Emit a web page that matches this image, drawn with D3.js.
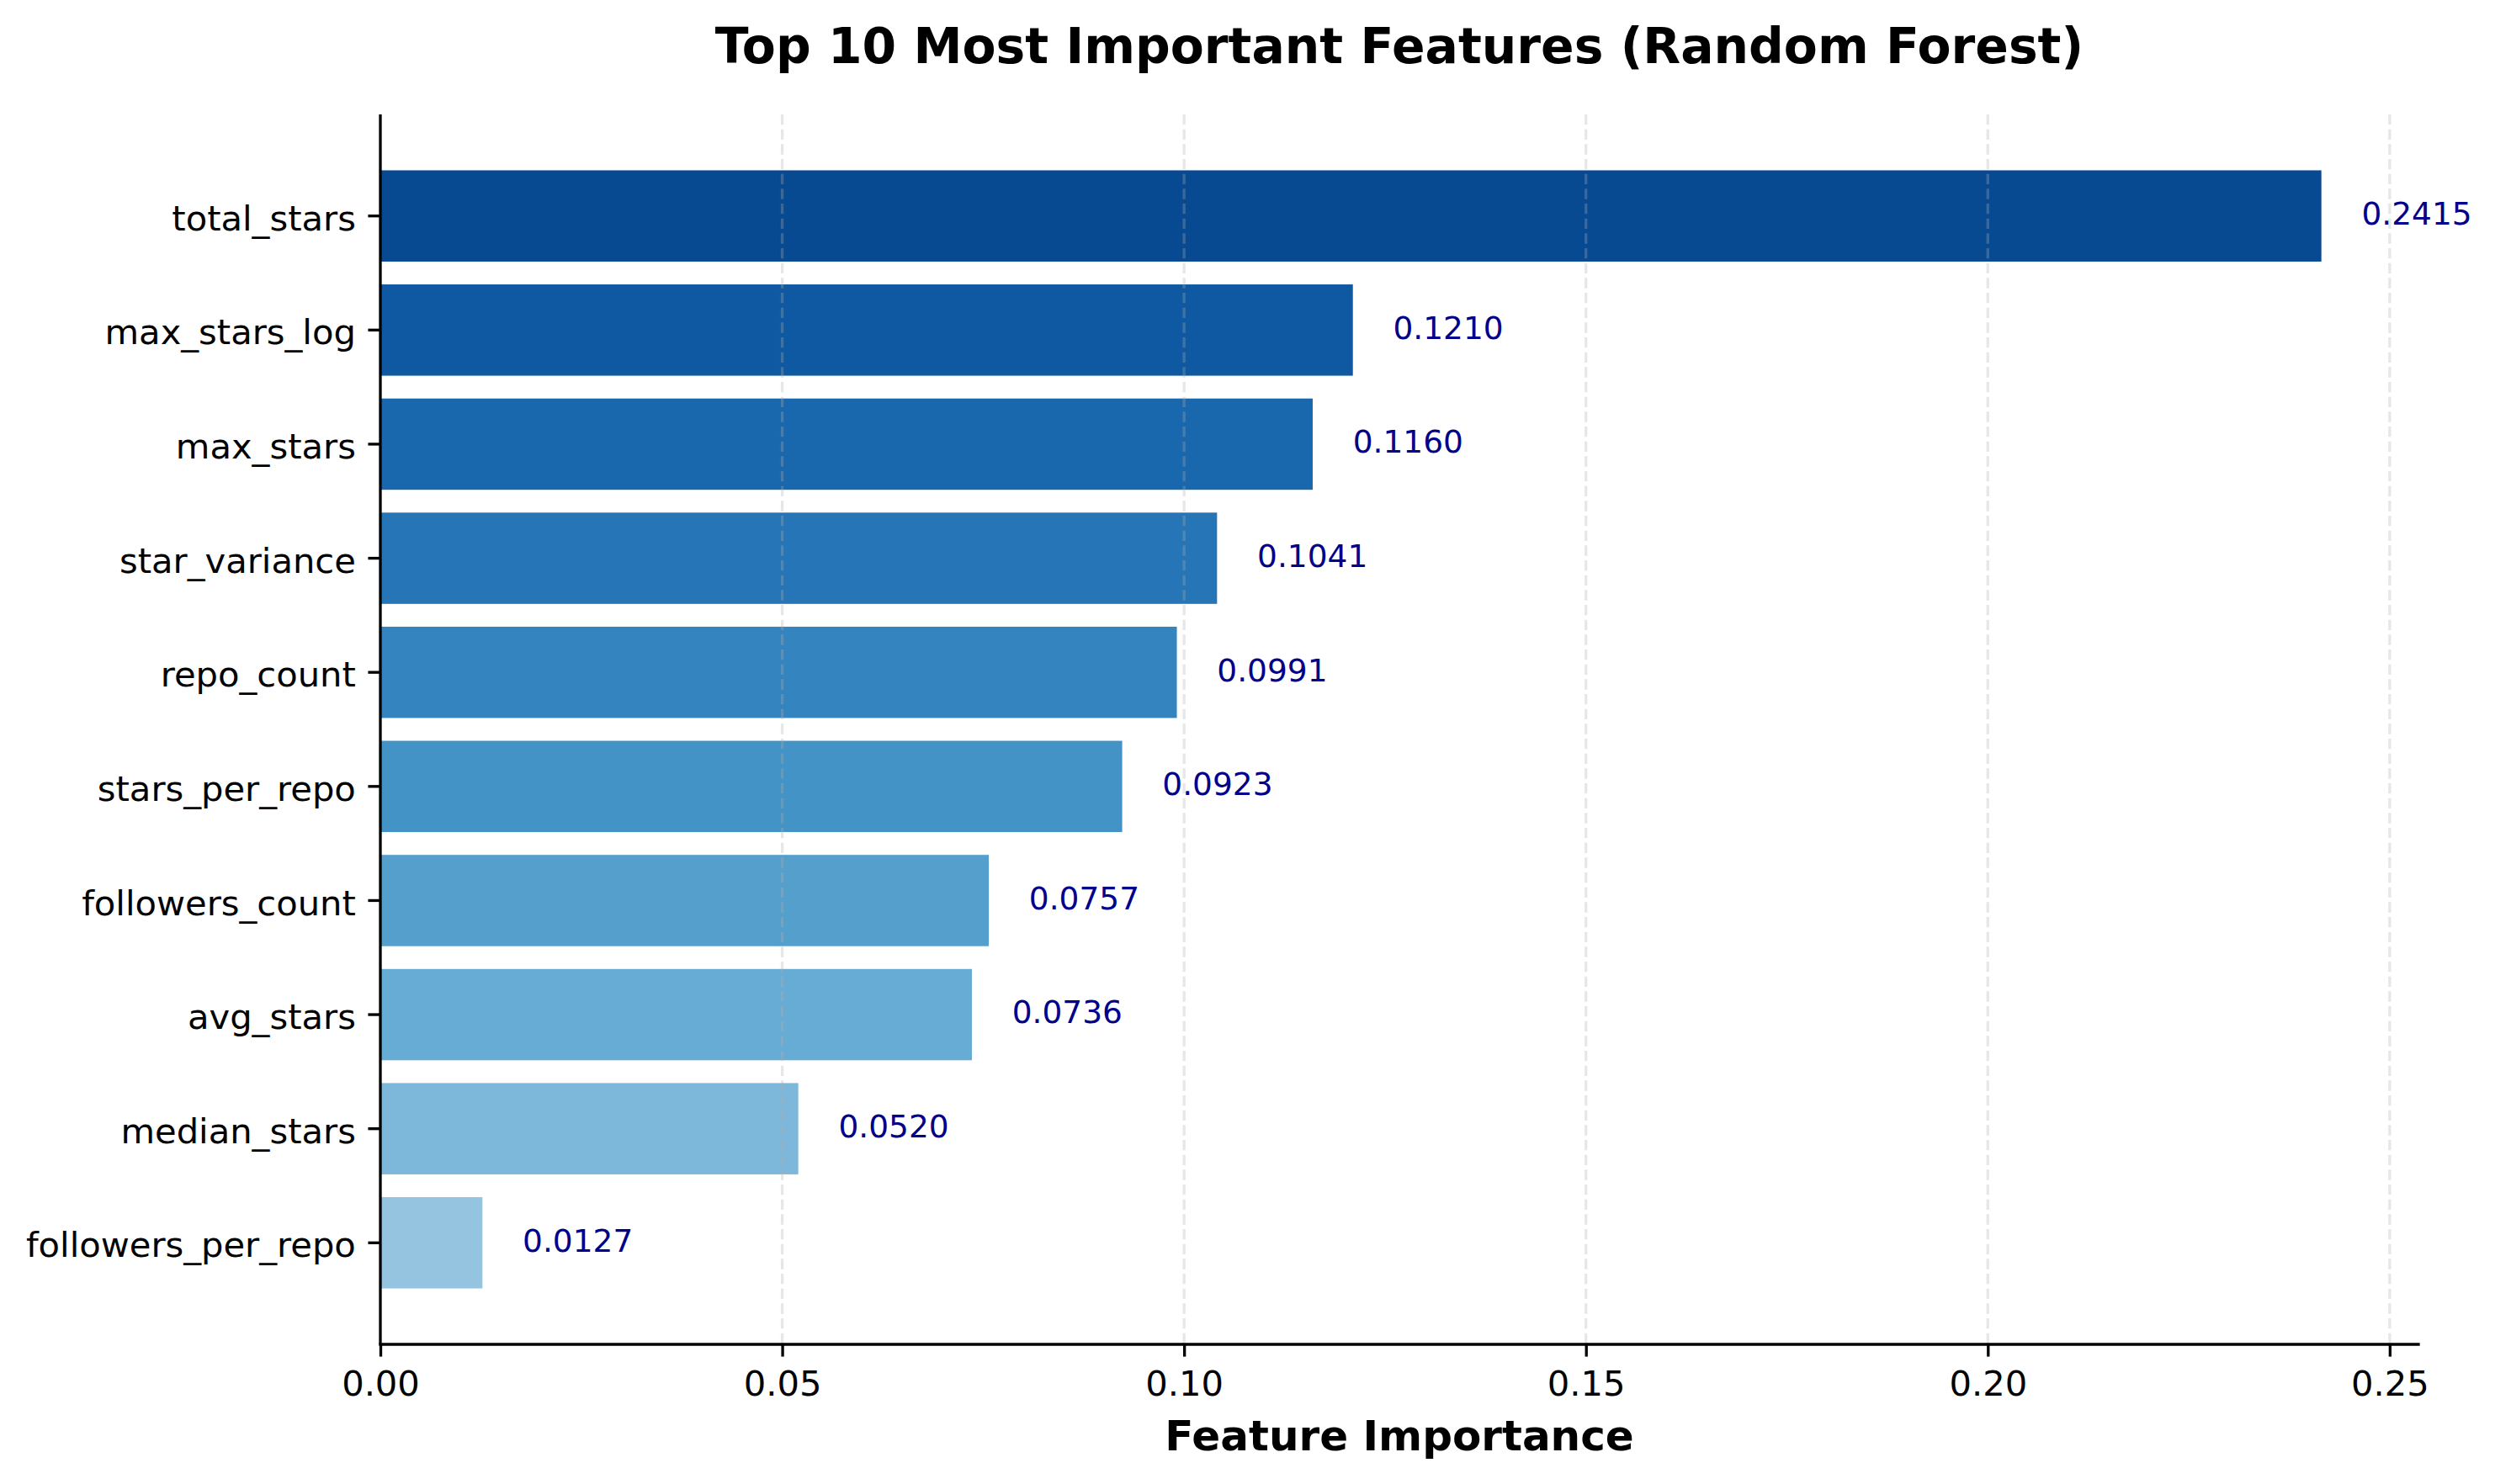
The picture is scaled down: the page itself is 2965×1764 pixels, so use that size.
<!DOCTYPE html>
<html>
<head>
<meta charset="utf-8">
<script src="https://cdn.jsdelivr.net/npm/d3@7"></script>
<style>
    body { margin: 0; background: #fff; }
    text { font-family: "DejaVu Sans", sans-serif; }
</style>
</head>
<body>
<svg id="mainFrame"></svg>
<script>
// features from top to bottom, with their importance
const features = ['total_stars', 'max_stars_log', 'max_stars', 'star_variance', 'repo_count',
    'stars_per_repo', 'followers_count', 'avg_stars', 'median_stars', 'followers_per_repo']
const importances = [0.2415, 0.1210, 0.1160, 0.1041, 0.0991, 0.0923, 0.0757, 0.0736, 0.0520, 0.0127]
const xTicks = [0, 0.05, 0.10, 0.15, 0.20, 0.25]

const data = features.map((f, i) => ({ feature: f, value: importances[i] }))

const W = 2965
const H = 1764
const pt = 300 / 72   // figure was saved at 300 dpi

const svg = d3.select('#mainFrame')
    .attr('width', W)
    .attr('height', H)

const margin = { top: 136, right: 91, bottom: 166, left: 452 }
const ourWidth = W - margin.left - margin.right
const ourHeight = H - margin.top - margin.bottom

const g = svg.append('g')
    .attr('transform', `translate(${margin.left},${margin.top})`)

// matplotlib Blues anchors, the bars run from 0.9 (top) down to 0.4
const blues = d3.scaleLinear()
    .domain(d3.range(9).map(i => i / 8))
    .range(['#f7fbff', '#deebf7', '#c6dbef', '#9ecae1', '#6baed6', '#4292c6', '#2171b5', '#08519c', '#08306b'])
const colorT = d3.scaleLinear().domain([0, features.length - 1]).range([0.9, 0.4])

const xScale = d3.scaleLinear()
    .domain([0, d3.max(importances) * 1.05])
    .range([0, ourWidth])

const yScale = d3.scaleBand()
    .domain(features)
    .range([0, ourHeight])
    .paddingInner(0.2)
    .paddingOuter(0.49)

// bars
g.append('g').selectAll('rect')
    .data(data)
    .join('rect')
    .attr('x', 0)
    .attr('y', d => yScale(d.feature))
    .attr('width', d => xScale(d.value))
    .attr('height', yScale.bandwidth())
    .attr('fill', (d, i) => blues(colorT(i)))

// dashed vertical grid (sits above the bars, like matplotlib)
g.append('g').selectAll('line')
    .data(xTicks.filter(t => t > 0))
    .join('line')
    .attr('x1', d => xScale(d))
    .attr('x2', d => xScale(d))
    .attr('y1', 0)
    .attr('y2', ourHeight)
    .attr('stroke', '#b0b0b0')
    .attr('stroke-opacity', 0.3)
    .attr('stroke-width', 0.8 * pt)
    .attr('stroke-dasharray', `${3.7 * 0.8 * pt},${1.6 * 0.8 * pt}`)

// value labels
g.append('g').selectAll('text')
    .data(data)
    .join('text')
    .attr('x', d => xScale(d.value + 0.005))
    .attr('y', d => yScale(d.feature) + yScale.bandwidth() / 2)
    .attr('dy', '0.275em')
    .attr('fill', '#00008b')
    .attr('font-size', 9 * pt)
    .text(d => d.value.toFixed(4))

// axes
const yAxis = d3.axisLeft(yScale)
    .tickSize(3.5 * pt)
    .tickPadding(3.5 * pt)

const yAxisGroup = g.append('g').call(yAxis)
yAxisGroup.select('.domain').remove()
yAxisGroup.selectAll('line').attr('stroke-width', 0.8 * pt)
yAxisGroup.selectAll('text')
    .attr('font-size', 10 * pt)
    .attr('font-family', '"DejaVu Sans", sans-serif')
    .attr('dy', '0.41em')

const xAxis = d3.axisBottom(xScale)
    .tickValues(xTicks)
    .tickFormat(d3.format('.2f'))
    .tickSize(3.5 * pt)
    .tickPadding(3.5 * pt)

const xAxisGroup = g.append('g')
    .attr('transform', `translate(0,${ourHeight})`)
    .call(xAxis)
xAxisGroup.select('.domain').remove()
xAxisGroup.selectAll('line').attr('stroke-width', 0.8 * pt)
xAxisGroup.selectAll('text')
    .attr('font-size', 10 * pt)
    .attr('font-family', '"DejaVu Sans", sans-serif')
    .attr('dy', '0.763em')

// left and bottom spines only
g.append('line')
    .attr('x1', 0).attr('x2', 0)
    .attr('y1', 0).attr('y2', ourHeight)
    .attr('stroke', '#000')
    .attr('stroke-width', 0.8 * pt)
g.append('line')
    .attr('x1', 0).attr('x2', ourWidth)
    .attr('y1', ourHeight).attr('y2', ourHeight)
    .attr('stroke', '#000')
    .attr('stroke-width', 0.8 * pt)
    .attr('stroke-linecap', 'square')

// axis label and title
svg.append('text')
    .attr('x', margin.left + ourWidth / 2)
    .attr('y', 1724)
    .attr('text-anchor', 'middle')
    .attr('font-size', 12 * pt)
    .attr('font-weight', 'bold')
    .text('Feature Importance')

svg.append('text')
    .attr('x', margin.left + ourWidth / 2)
    .attr('y', 75)
    .attr('text-anchor', 'middle')
    .attr('font-size', 14 * pt)
    .attr('font-weight', 'bold')
    .text('Top 10 Most Important Features (Random Forest)')
</script>
</body>
</html>
